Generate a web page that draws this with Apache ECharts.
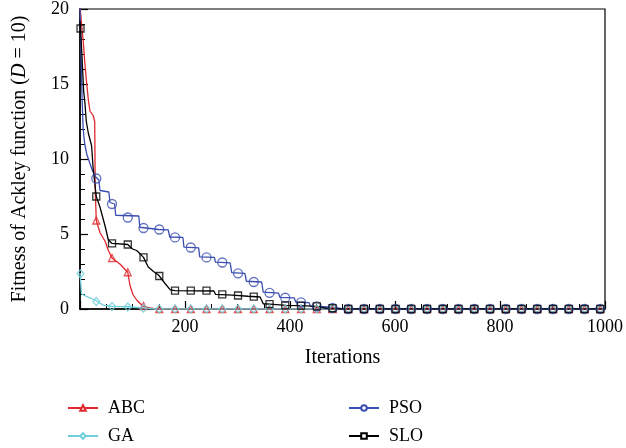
<!DOCTYPE html>
<html>
<head>
<meta charset="utf-8">
<script src="https://cdn.jsdelivr.net/npm/echarts@6/dist/echarts.min.js"></script>
<style>html,body{margin:0;padding:0;background:#fff}#c{width:626px;height:448px}</style>
</head>
<body>
<div id="c"></div>
<script>
// ---- data ----
var seriesNames = ['ABC', 'GA', 'PSO', 'SLO'];
var xTickLabels = ['200', '400', '600', '800', '1000'];
var yTickLabels = ['0', '5', '10', '15', '20'];

// line breakpoints [iteration, fitness]
var abcLine = [[0,20.2],[3,19],[6,17.9],[9,16.5],[12,15.3],[16,13.9],[19,13.2],[25,12.9],[28,12.5],[29,8],[31,5.9],[38,5.1],[48,4.5],[54,3.9],[61,3.4],[76,3.0],[91,2.45],[95,1.6],[101,0.95],[108,0.6],[117,0.28],[121,0.17],[133,0.07],[145,0],[1000,0]];
var gaLine = [[0,2.4],[1,2.35],[3,1.0],[13,0.83],[22,0.7],[31,0.55],[44,0.26],[61,0.17],[92,0.15],[110,0.1],[125,0.05],[140,0],[1000,0]];
var psoLine = [[0,20.2],[2,17],[4,14],[6,12],[9,11],[13,10.3],[18,9.8],[24,9.2],[30,8.8],[36,8.6],[38,7.9],[55,7.8],[57,7.1],[66,7.0],[68,6.25],[112,6.2],[114,5.45],[150,5.3],[168,5.28],[171,4.8],[196,4.77],[198,4.12],[226,4.08],[228,3.48],[256,3.44],[258,3.12],[286,3.08],[289,2.42],[314,2.38],[317,1.85],[346,1.8],[349,1.12],[378,1.06],[381,0.77],[408,0.74],[411,0.46],[436,0.43],[439,0.18],[464,0.15],[467,0.07],[495,0.05],[500,0],[1000,0]];
var sloLine = [[0,19.2],[1,18.7],[4,16.7],[7,14.5],[9,13.9],[12,12.5],[16,11.7],[22,10.9],[25,9.4],[31,7.5],[38,6.8],[48,5.5],[54,4.6],[61,4.37],[91,4.3],[100,4.0],[108,3.9],[121,3.44],[130,2.8],[140,2.5],[150,2.25],[162,1.7],[172,1.28],[181,1.23],[255,1.2],[258,0.98],[290,0.92],[320,0.85],[343,0.8],[349,0.35],[362,0.32],[392,0.24],[421,0.22],[451,0.17],[470,0.05],[490,0],[1000,0]];

// marker positions and values
var markerIter = [1,31,61,91,121,151,181,211,241,271,301,331,361,391,421,451,481,511,541,571,601,631,661,691,721,751,781,811,841,871,901,931,961,991];
var abcMark = [20.2,5.9,3.4,2.45,0.2,0,0,0,0,0,0,0,0,0,0,0,0,0,0,0,0,0,0,0,0,0,0,0,0,0,0,0,0,0];
var gaMark  = [2.35,0.5,0.17,0.13,0.05,0,0,0,0,0,0,0,0,0,0,0,0,0,0,0,0,0,0,0,0,0,0,0,0,0,0,0,0,0];
var psoMark = [20.2,8.7,7.0,6.1,5.4,5.3,4.77,4.1,3.44,3.1,2.38,1.8,1.08,0.75,0.44,0.17,0.07,0,0,0,0,0,0,0,0,0,0,0,0,0,0,0,0,0];
var sloMark = [18.7,7.5,4.37,4.3,3.44,2.2,1.23,1.23,1.23,0.98,0.9,0.82,0.32,0.24,0.22,0.17,0.05,0,0,0,0,0,0,0,0,0,0,0,0,0,0,0,0,0];

// ---- chart ----
var FONT = '"Liberation Serif", "DejaVu Serif", serif';
var colors = {ABC:'#e0282e', GA:'#6fd0dc', PSO:'#3a4db0', SLO:'#000000'};
var symbols = {ABC:'triangle', GA:'diamond', PSO:'circle', SLO:'rect'};
var symSize = {ABC:[7,7], GA:[7,8], PSO:[9,9], SLO:[7,7]};
var lines = {ABC:abcLine, GA:gaLine, PSO:psoLine, SLO:sloLine};
var marks = {ABC:abcMark, GA:gaMark, PSO:psoMark, SLO:sloMark};
var legendPos = {ABC:[62,394], GA:[62,422], PSO:[343,394], SLO:[343,422]};

var series = [];
seriesNames.forEach(function(n){
  series.push({
    name:n, type:'line', data:lines[n], showSymbol:false,
    symbol:'empty' + symbols[n].charAt(0).toUpperCase() + symbols[n].slice(1),
    lineStyle:{color:colors[n], width:1.3}, itemStyle:{color:colors[n]},
    z:2, silent:true
  });
});
seriesNames.forEach(function(n){
  series.push({
    name:n + ' markers', type:'scatter',
    data:markerIter.map(function(x,i){return [x, marks[n][i]];}),
    symbol:symbols[n], symbolSize:symSize[n],
    itemStyle:{color:'rgba(255,255,255,0)', borderColor:colors[n], borderWidth:1.3},
    z:3, silent:true
  });
});

var legends = seriesNames.map(function(n){
  return {data:[n], orient:'vertical', left:legendPos[n][0], top:legendPos[n][1],
    itemWidth:30, itemHeight:7, selectedMode:false,
    textStyle:{fontFamily:FONT, fontSize:18, color:'#000', padding:[0,0,0,5]}};
});

var chart = echarts.init(document.getElementById('c'), null, {renderer:'canvas'});
chart.setOption({
  animation:false,
  backgroundColor:'#fff',
  grid:{left:80, right:20, top:7, bottom:139, show:true, borderColor:'#000', borderWidth:1.2, backgroundColor:'transparent'},
  xAxis:{
    type:'value', min:0, max:1000, interval:200,
    name:'Iterations', nameLocation:'middle', nameGap:39,
    nameTextStyle:{fontFamily:FONT, fontSize:20, color:'#000'},
    axisLine:{show:true, onZero:false, lineStyle:{color:'#000', width:1.6}},
    axisTick:{show:true, inside:true, length:8, lineStyle:{color:'#000', width:1.2}},
    minorTick:{show:true, splitNumber:4, length:5, lineStyle:{color:'#000', width:1}},
    splitLine:{show:false},
    axisLabel:{fontFamily:FONT, fontSize:18, color:'#000', margin:9,
      formatter:function(v){ var s = String(v); return xTickLabels.indexOf(s) >= 0 ? s : ''; }}
  },
  yAxis:{
    type:'value', min:0, max:20, interval:5,
    name:'Fitness of Ackley function ({it|D} = 10)', nameLocation:'middle', nameGap:50, nameRotate:90,
    nameTextStyle:{fontFamily:FONT, fontSize:20, color:'#000',
      rich:{it:{fontFamily:FONT, fontSize:20, fontStyle:'italic', color:'#000'}}},
    axisLine:{show:true, lineStyle:{color:'#000', width:1.6}},
    axisTick:{show:true, inside:true, length:8, lineStyle:{color:'#000', width:1.2}},
    minorTick:{show:true, splitNumber:5, length:5, lineStyle:{color:'#000', width:1}},
    splitLine:{show:false},
    axisLabel:{fontFamily:FONT, fontSize:18, color:'#000', margin:11,
      formatter:function(v){ var s = String(v); return yTickLabels.indexOf(s) >= 0 ? s : ''; }}
  },
  legend:legends,
  series:series
});
</script>
</body>
</html>
